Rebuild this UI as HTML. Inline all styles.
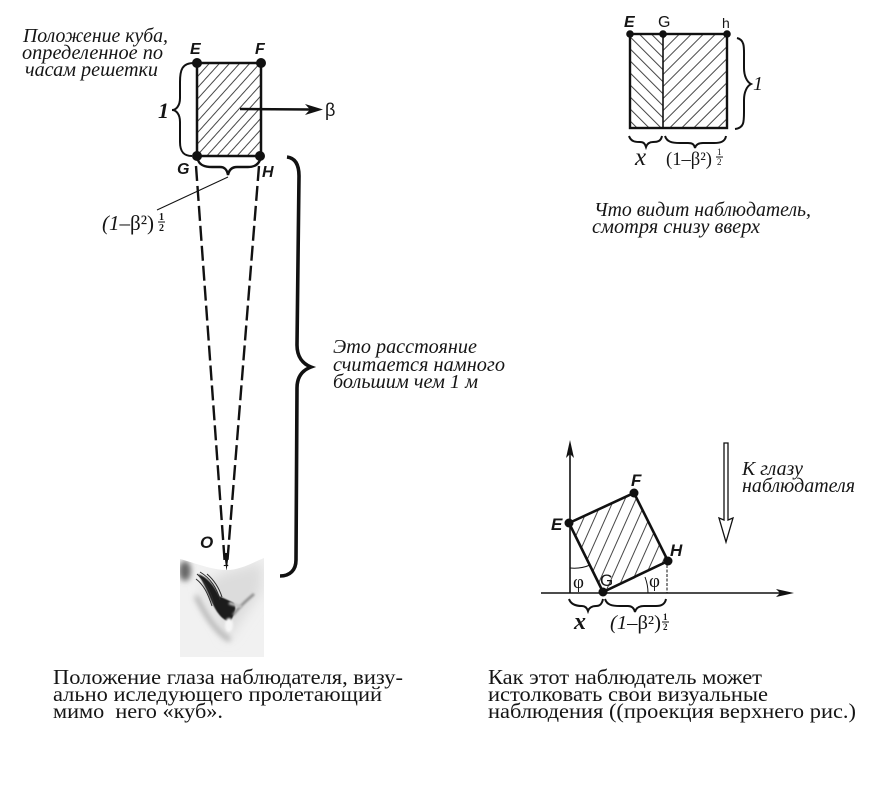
<!DOCTYPE html>
<html lang="ru">
<head>
<meta charset="utf-8">
<title>Положение куба</title>
<style>
html,body{margin:0;padding:0;background:#fff}
svg{display:block}
text{fill:#151515}
.it{font-family:"Liberation Serif",serif;font-style:italic;font-size:20px}
.rm{font-family:"Liberation Serif",serif;font-size:21.5px}
.lb{font-family:"Liberation Sans",sans-serif;font-style:italic;font-weight:bold;font-size:16px}
.nt{font-family:"Liberation Serif",serif;font-size:15px}
</style>
</head>
<body>
<svg xmlns="http://www.w3.org/2000/svg" width="878" height="798" viewBox="0 0 878 798">
<defs>
<pattern id="h1" width="7.5" height="7.5" patternUnits="userSpaceOnUse" patternTransform="rotate(42)"><line x1="3" y1="0" x2="3" y2="7.5" stroke="#333" stroke-width="0.9"/></pattern>
<pattern id="h2" width="8.5" height="8.5" patternUnits="userSpaceOnUse" patternTransform="rotate(-45)"><line x1="3" y1="0" x2="3" y2="8.5" stroke="#333" stroke-width="0.9"/></pattern>
<pattern id="h3" width="8.5" height="8.5" patternUnits="userSpaceOnUse" patternTransform="rotate(45)"><line x1="3" y1="0" x2="3" y2="8.5" stroke="#333" stroke-width="0.9"/></pattern>
<pattern id="h4" width="10" height="10" patternUnits="userSpaceOnUse" patternTransform="rotate(24)"><line x1="4" y1="0" x2="4" y2="10" stroke="#333" stroke-width="0.9"/></pattern>
<filter id="b05" x="-20%" y="-20%" width="140%" height="140%"><feGaussianBlur stdDeviation="0.5"/></filter>
<filter id="b1" x="-30%" y="-30%" width="160%" height="160%"><feGaussianBlur stdDeviation="1"/></filter>
<filter id="b3" x="-50%" y="-50%" width="200%" height="200%"><feGaussianBlur stdDeviation="3"/></filter>
<filter id="b6" x="-50%" y="-50%" width="200%" height="200%"><feGaussianBlur stdDeviation="6"/></filter>
<clipPath id="eyeclip"><path d="M180 559 C195 563 212 570 227 570 C240 570 252 563 264 558 L264 657 L180 657 Z"/></clipPath>
</defs>

<!-- Left diagram -->
<text class="it" x="23" y="42" textLength="145" lengthAdjust="spacingAndGlyphs">Положение куба,</text>
<text class="it" x="22" y="59" textLength="141" lengthAdjust="spacingAndGlyphs">определенное по</text>
<text class="it" x="25" y="76" textLength="133" lengthAdjust="spacingAndGlyphs">часам решетки</text>

<g>
<rect x="197" y="63" width="64" height="93" fill="url(#h1)" stroke="#111" stroke-width="2.5"/>
<circle cx="197" cy="63" r="5" fill="#111"/><circle cx="261" cy="63" r="5" fill="#111"/>
<circle cx="197" cy="156" r="5" fill="#111"/><circle cx="260" cy="156" r="5" fill="#111"/>
</g>
<text class="lb" x="190" y="54">E</text>
<text class="lb" x="255" y="54">F</text>
<text class="lb" x="177" y="174">G</text>
<text class="lb" x="262" y="177">H</text>
<path d="M194 63 C182 63 180 70 180 82 L180 98 C180 106 176 110 172 110 C176 110 180 114 180 122 L180 142 C180 152 184 156 192 156" fill="none" stroke="#111" stroke-width="2"/>
<text x="158" y="118" style="font-family:'Liberation Serif',serif;font-style:italic;font-weight:bold;font-size:22px">1</text>
<g>
<line x1="240" y1="109" x2="312" y2="109.5" stroke="#111" stroke-width="2.5"/>
<path d="M305 104 L323 109.5 L305 115 L310 109.5 Z" fill="#111"/>
</g>
<text x="325" y="116" style="font-family:'Liberation Sans',sans-serif;font-size:18px">β</text>
<path d="M198 160 C200 166 206 167 212 167 L220 167 C225 167 227 170 228 175 C229 170 232 167 237 167 L248 167 C254 167 258 165 260 160" fill="none" stroke="#111" stroke-width="2.4"/>
<line x1="228" y1="177" x2="157" y2="210" stroke="#111" stroke-width="1"/>
<g>
<text x="102" y="230" style="font-family:'Liberation Serif',serif;font-size:21px" textLength="52" lengthAdjust="spacingAndGlyphs"><tspan font-style="italic">(1</tspan>–β²)</text>
<text x="159" y="220" style="font-family:'Liberation Serif',serif;font-size:10px;font-weight:bold">1</text>
<line x1="158" y1="222" x2="165" y2="222" stroke="#111" stroke-width="1"/>
<text x="159" y="231" style="font-family:'Liberation Serif',serif;font-size:10px;font-weight:bold">2</text>
</g>
<line x1="196" y1="166" x2="225" y2="566" stroke="#111" stroke-width="2.4" stroke-dasharray="15 5"/>
<line x1="259" y1="166" x2="227" y2="566" stroke="#111" stroke-width="2.4" stroke-dasharray="15 5"/>
<path d="M224 553 L229 553 L226.5 571 Z" fill="#111"/>
<path d="M287 157 C295 158 299 164 299 176 L297 345 C297 357 303 364 311 367 C303 370 297 376 297 388 L296 560 C296 570 290 576 280 576" fill="none" stroke="#111" stroke-width="3.6"/>
<text class="it" x="333" y="353" textLength="144" lengthAdjust="spacingAndGlyphs">Это расстояние</text>
<text class="it" x="333" y="371" textLength="172" lengthAdjust="spacingAndGlyphs">считается намного</text>
<text class="it" x="333" y="388" textLength="145" lengthAdjust="spacingAndGlyphs">большим чем 1 м</text>
<text class="lb" x="200" y="548" style="font-size:17px">O</text>

<g clip-path="url(#eyeclip)">
<rect x="180" y="555" width="84" height="102" fill="#f1f1f1"/>
<path d="M200 585 L228 640 L262 590 L262 562 L225 572 Z" fill="#dcdcdc" filter="url(#b6)"/>
<ellipse cx="185" cy="571" rx="6" ry="10" fill="#666" filter="url(#b3)"/>
<path d="M196 596 C206 616 216 632 230 640" fill="none" stroke="#a5a5a5" stroke-width="4" filter="url(#b3)"/>
<path d="M198 574 C207 577 214 585 219 596 L232 602 C238 605 235 614 230 622 C222 620 216 612 211 600 C207 590 203 582 198 574 Z" fill="#1c1c1c" filter="url(#b05)"/>
<g stroke="#2a2a2a" stroke-width="1" fill="none">
<path d="M197 574 C206 582 211 592 214 604"/>
<path d="M200 572 C210 578 217 588 220 600"/>
<path d="M196 579 C204 585 208 594 212 606"/>
<path d="M207 574 C214 580 219 588 222 597"/>
</g>
<ellipse cx="229" cy="625" rx="4" ry="7" fill="#f6f6f6" filter="url(#b1)"/>
<path d="M233 615 C240 606 247 600 254 594" fill="none" stroke="#8a8a8a" stroke-width="2.5" filter="url(#b1)"/>
<path d="M229 603 L242 607" stroke="#c5c5c5" stroke-width="3" filter="url(#b1)"/>
</g>

<text class="rm" x="53" y="684" textLength="350" lengthAdjust="spacingAndGlyphs">Положение глаза наблюдателя, визу-</text>
<text class="rm" x="53" y="701" textLength="329" lengthAdjust="spacingAndGlyphs">ально иследующего пролетающий</text>
<text class="rm" x="53" y="718" textLength="170" lengthAdjust="spacingAndGlyphs" xml:space="preserve">мимо  него «куб».</text>

<!-- Top-right diagram -->
<g>
<rect x="630" y="34" width="33" height="94" fill="url(#h2)"/>
<rect x="663" y="34" width="64" height="94" fill="url(#h3)"/>
<rect x="630" y="34" width="97" height="94" fill="none" stroke="#111" stroke-width="2.4"/>
<line x1="663" y1="34" x2="663" y2="128" stroke="#111" stroke-width="1.6"/>
<circle cx="630" cy="34" r="3.8" fill="#111"/><circle cx="663" cy="34" r="3.8" fill="#111"/><circle cx="727" cy="34" r="3.8" fill="#111"/>
</g>
<text class="lb" x="624" y="27">E</text>
<text class="lb" x="658" y="27" style="font-style:normal;font-weight:normal">G</text>
<text class="lb" x="722" y="28" style="font-style:normal;font-weight:normal;font-size:14px">h</text>
<path d="M737 38 C745 40 744 48 744 58 L744 68 C744 76 747 82 751 84 C747 86 744 92 744 100 L744 112 C744 122 744 128 735 129" fill="none" stroke="#111" stroke-width="2"/>
<text x="753" y="90" style="font-family:'Liberation Serif',serif;font-style:italic;font-size:20px">1</text>
<path d="M629 136 C631 142 636 142 640 142 C644 142 645 144 646 147 C647 144 649 142 653 142 C658 142 661 141 662 136" fill="none" stroke="#111" stroke-width="2"/>
<path d="M665 136 C667 142 672 143 680 143 L688 143 C692 143 694 144 695 148 C696 144 699 143 703 143 L714 143 C720 143 725 142 726 136" fill="none" stroke="#111" stroke-width="2"/>
<text x="635" y="165" style="font-family:'Liberation Serif',serif;font-style:italic;font-size:25px">x</text>
<g>
<text x="666" y="165" style="font-family:'Liberation Serif',serif;font-size:19px" textLength="46" lengthAdjust="spacingAndGlyphs">(1–β²)</text>
<text x="717" y="155" style="font-family:'Liberation Serif',serif;font-size:9px">1</text>
<line x1="716" y1="157" x2="723" y2="157" stroke="#111" stroke-width="1"/>
<text x="717" y="165" style="font-family:'Liberation Serif',serif;font-size:9px">2</text>
</g>
<text class="it" x="594" y="216" textLength="217" lengthAdjust="spacingAndGlyphs">Что видит наблюдатель,</text>
<text class="it" x="592" y="233" textLength="168" lengthAdjust="spacingAndGlyphs">смотря снизу вверх</text>

<!-- Lower-right diagram -->
<g>
<line x1="570" y1="593" x2="570" y2="448" stroke="#111" stroke-width="1.6"/>
<path d="M570 440 L574 458 L570 454 L566 458 Z" fill="#111"/>
<line x1="541" y1="593" x2="784" y2="593" stroke="#111" stroke-width="1.6"/>
<path d="M794 593 L776 589 L780 593 L776 597 Z" fill="#111"/>
</g>
<g>
<polygon points="569,523 634,493 668,561 603,592" fill="url(#h4)" stroke="#111" stroke-width="2.6"/>
<circle cx="569" cy="523" r="4.5" fill="#111"/><circle cx="634" cy="493" r="4.5" fill="#111"/>
<circle cx="668" cy="561" r="4.5" fill="#111"/><circle cx="603" cy="592" r="4.5" fill="#111"/>
</g>
<line x1="667" y1="565" x2="667" y2="593" stroke="#111" stroke-width="1" stroke-dasharray="3 1.5"/>
<path d="M570 568 Q581 569 590 565" fill="none" stroke="#111" stroke-width="1"/>
<path d="M645 577 Q648 585 648 593" fill="none" stroke="#111" stroke-width="1"/>
<text x="573" y="588" class="nt" style="font-size:19px">φ</text>
<text x="649" y="587" class="nt" style="font-size:19px">φ</text>
<text class="lb" x="551" y="530" style="font-size:17px">E</text>
<text class="lb" x="631" y="486" style="font-size:17px">F</text>
<text class="lb" x="670" y="556" style="font-size:17px">H</text>
<text class="lb" x="600" y="586" style="font-size:17px;font-style:normal;font-weight:normal">G</text>
<path d="M569 599 C571 605 577 606 582 606 C585 606 587 608 588 611 C589 608 592 606 596 606 C600 606 602 604 603 599" fill="none" stroke="#111" stroke-width="2"/>
<path d="M605 599 C607 605 612 606 620 606 L628 606 C632 606 634 608 635 612 C636 608 639 606 644 606 L656 606 C662 606 665 604 666 599" fill="none" stroke="#111" stroke-width="2"/>
<text x="574" y="629" style="font-family:'Liberation Serif',serif;font-style:italic;font-weight:bold;font-size:24px">x</text>
<g>
<text x="610" y="629" style="font-family:'Liberation Serif',serif;font-size:20px" textLength="51" lengthAdjust="spacingAndGlyphs"><tspan font-style="italic">(1</tspan>–β²)</text>
<text x="663" y="620" style="font-family:'Liberation Serif',serif;font-size:9px;font-weight:bold">1</text>
<line x1="662" y1="622" x2="669" y2="622" stroke="#111" stroke-width="1"/>
<text x="663" y="630" style="font-family:'Liberation Serif',serif;font-size:9px;font-weight:bold">2</text>
</g>
<path d="M724 443 L728 443 L728 520 L733 518 L726 542 L719 518 L724 520 Z" fill="#fff" stroke="#111" stroke-width="1.3"/>
<text class="it" x="742" y="475" textLength="61" lengthAdjust="spacingAndGlyphs">К глазу</text>
<text class="it" x="742" y="492" textLength="113" lengthAdjust="spacingAndGlyphs">наблюдателя</text>

<text class="rm" x="488" y="684" textLength="274" lengthAdjust="spacingAndGlyphs">Как этот наблюдатель может</text>
<text class="rm" x="488" y="701" textLength="280" lengthAdjust="spacingAndGlyphs">истолковать свои визуальные</text>
<text class="rm" x="488" y="718" textLength="368" lengthAdjust="spacingAndGlyphs">наблюдения ((проекция верхнего рис.)</text>
</svg>
</body>
</html>
